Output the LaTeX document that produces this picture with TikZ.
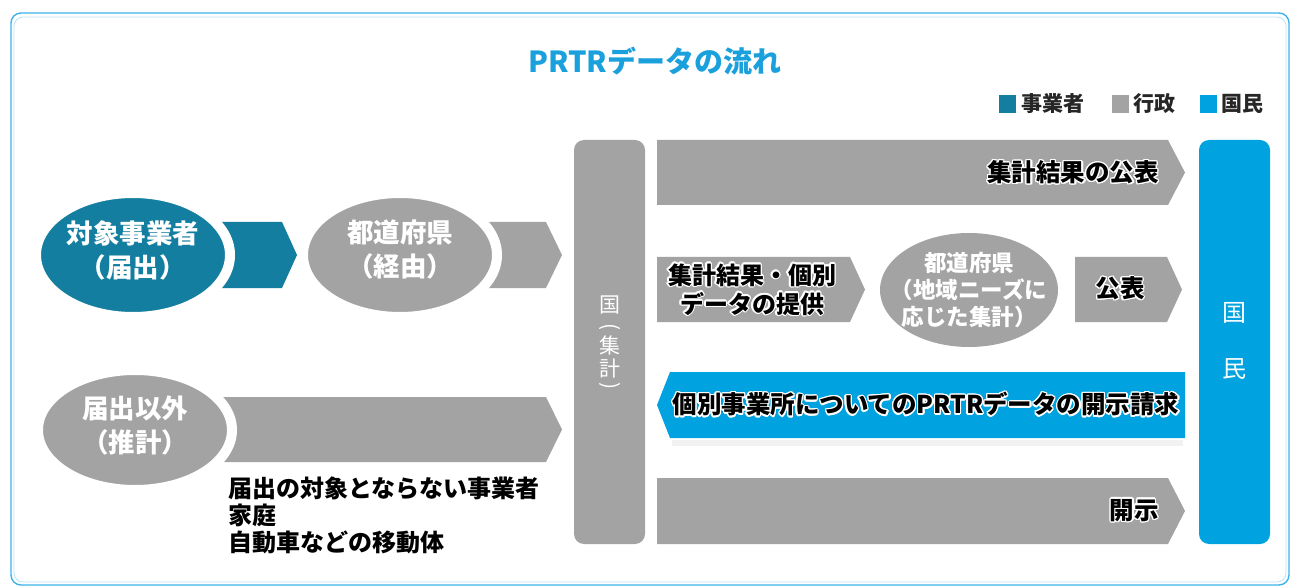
\documentclass[tikz,border=0pt]{standalone}
\usepackage{fontspec}
\setmainfont{Noto Sans CJK JP}
\usepackage{contour}
\contourlength{1.3pt}
\usetikzlibrary{shapes.geometric}
\definecolor{bizteal}{HTML}{137E9F}
\definecolor{govgray}{HTML}{A3A3A3}
\definecolor{citblue}{HTML}{00A2E0}
\definecolor{titleblue}{HTML}{1AA0DC}
\definecolor{framecol}{HTML}{3DB3E8}
\newcommand{\ct}[1]{\contour{white}{#1}}
\tikzset{
  frame/.style={draw=framecol, line width=1.4pt, rounded corners=10pt},
  oval/.style={ellipse, draw=white, line width=10pt, inner sep=0pt, minimum width=194pt, minimum height=124pt},
  ovaltext/.style={text=white, align=center, font=\bfseries\fontsize{26.5}{34}\selectfont},
  col/.style={rectangle, rounded corners=10pt, minimum width=71pt, minimum height=404pt, inner sep=0pt},
  coltext/.style={text=white, inner sep=0pt, font=\fontsize{21}{21}\selectfont},
  arrtext/.style={text=black, align=center, inner sep=0pt, font=\bfseries\fontsize{24.5}{28}\selectfont},
  notetext/.style={text=black, inner sep=0pt, anchor=base west, font=\bfseries\fontsize{24}{27}\selectfont},
  legsq/.style={rectangle, minimum width=17pt, minimum height=18pt, inner sep=0pt},
  legtext/.style={anchor=west, inner sep=0pt, text=black!85, font=\bfseries\fontsize{21}{22}\selectfont},
}
\begin{document}
\begin{tikzpicture}[x=1pt,y=-1pt]
\useasboundingbox (0,0) rectangle (1296,588);
\fill[white] (0,0) rectangle (1296,588);
\draw[frame] (11,13) rectangle (1289,585);
\draw[framecol!35, line width=0.8pt, rounded corners=9pt] (14,17) rectangle (1286,582);

% title
\node[text=titleblue, font=\bfseries\fontsize{29}{32}\selectfont] (title) at (655,61) {PRTRデータの流れ};

% legend
\node[legsq, fill=bizteal] (lg1) at (1007.5,104) {};
\node[legtext] (lt1) at ([xshift=5pt]lg1.east) {事業者};
\node[legsq, fill=govgray] (lg2) at (1120,104) {};
\node[legtext] (lt2) at ([xshift=5pt]lg2.east) {行政};
\node[legsq, fill=citblue] (lg3) at (1208,104) {};
\node[legtext] (lt3) at ([xshift=5pt]lg3.east) {国民};

% left block arrows (drawn under the ovals)
\fill[bizteal] (200,222) -- (282,222) -- (297,255) -- (282,288) -- (200,288) -- cycle;
\fill[govgray] (460,222) -- (546,222) -- (562,255) -- (546,288) -- (460,288) -- cycle;
\fill[govgray] (200,397) -- (546,397) -- (562,429.5) -- (546,462) -- (200,462) -- cycle;

% ovals
\node[oval, fill=bizteal] (o1) at (133,255) {};
\node[ovaltext] at ([yshift=5pt]o1.center) {対象事業者\\（届出）};
\node[oval, fill=govgray] (o2) at (400,255) {};
\node[ovaltext] at ([yshift=5pt]o2.center) {都道府県\\（経由）};
\node[oval, fill=govgray, minimum height=120pt] (o3) at (135,430) {};
\node[ovaltext] at ([yshift=4pt]o3.center) {届出以外\\（推計）};

% note text
\node[notetext] (n1) at (228,497) {届出の対象とならない事業者};
\node[notetext] (n2) at (228,524) {家庭};
\node[notetext] (n3) at (228,551) {自動車などの移動体};

% columns
\node[col, fill=govgray] (kuni) at (609.5,342) {};
\node[coltext] (c1) at (610,305) {国};
\node[coltext, rotate=-90] (c2) at (610,327) {(};
\node[coltext] (c3) at (610,345) {集};
\node[coltext] (c4) at (610,369) {計};
\node[coltext, rotate=-90] (c5) at (610,386) {)};
\node[col, fill=citblue] (kokumin) at (1234.5,342) {};
\node[text=white, inner sep=0pt, font=\fontsize{24}{26}\selectfont] (k1) at (1234.5,313) {国};
\node[text=white, inner sep=0pt, font=\fontsize{24}{26}\selectfont] (k2) at (1234.5,369) {民};

% right block arrows
\fill[govgray] (657,140) -- (1168,140) -- (1185,172.5) -- (1168,205) -- (657,205) -- cycle;
\node[arrtext, anchor=east] (a1) at (1159,173) {\ct{集計結果の公表}};

\fill[govgray] (657,257) -- (850,257) -- (865,289.5) -- (850,322) -- (657,322) -- cycle;
\node[arrtext, font=\bfseries\fontsize{24}{29}\selectfont] (a2) at (752,290) {\ct{集計結果・個別}\\\ct{データの提供}};

\node[ellipse, fill=govgray, inner sep=0pt, minimum width=178pt, minimum height=114pt] (o4) at (969,290) {};
\node[text=white, align=center, font=\bfseries\fontsize{22.5}{27}\selectfont] at (o4) {都道府県\\（地域ニーズに\\応じた集計）};

\fill[govgray] (1075,257) -- (1167,257) -- (1182,289.5) -- (1167,322) -- (1075,322) -- cycle;
\node[arrtext] (a3) at (1120,289) {\ct{公表}};

\fill[black!5] (672,440) rectangle (1183,446);
\fill[citblue] (670,372) -- (1185,372) -- (1185,438) -- (670,438) -- (657,405) -- cycle;
\node[arrtext] (a4) at (926,405) {\ct{個別事業所についてのPRTRデータの開示請求}};

\fill[govgray] (657,478) -- (1168,478) -- (1185,511) -- (1168,544) -- (657,544) -- cycle;
\node[arrtext, anchor=east] (a5) at (1159,511) {\ct{開示}};
\end{tikzpicture}
\end{document}
